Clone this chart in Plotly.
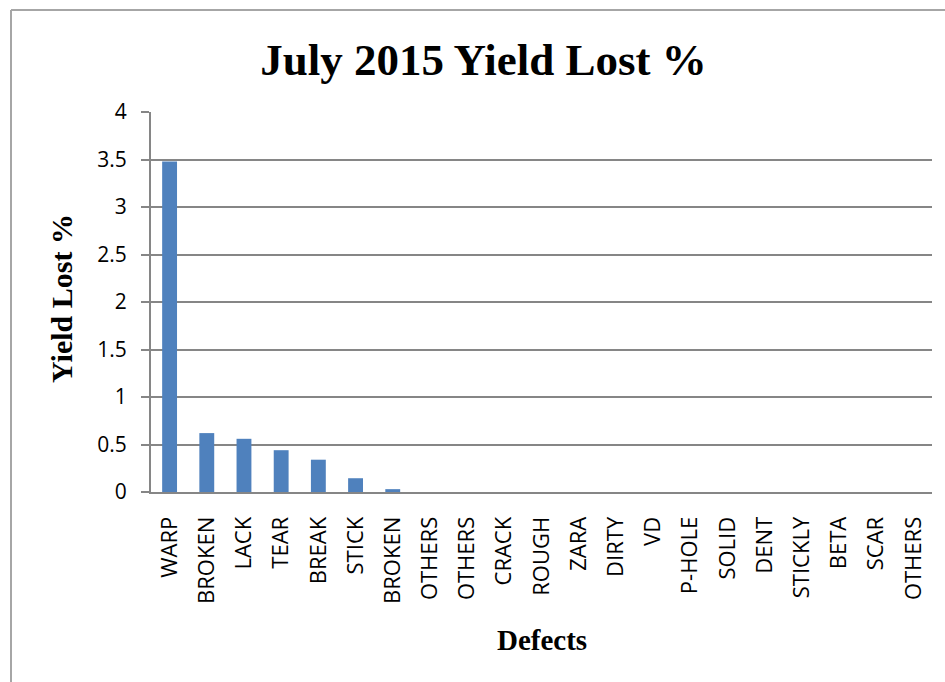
import plotly.graph_objects as go

categories = ["WARP", "BROKEN", "LACK", "TEAR", "BREAK", "STICK", "BROKEN", "OTHERS",
              "OTHERS", "CRACK", "ROUGH", "ZARA", "DIRTY", "VD", "P-HOLE", "SOLID",
              "DENT", "STICKLY", "BETA", "SCAR", "OTHERS"]
yield_lost = [3.48, 0.62, 0.56, 0.44, 0.34, 0.145, 0.03, 0, 0, 0, 0, 0, 0, 0, 0, 0, 0, 0, 0, 0, 0]
y_ticks = [0, 0.5, 1, 1.5, 2, 2.5, 3, 3.5, 4]
y_ticktext = ["0", "0.5", "1", "1.5", "2", "2.5", "3", "3.5", "4"]

positions = list(range(len(categories)))

W, H = 945, 682
L, R, T, B = 151, 13, 112, 190
pw, ph = W - L - R, H - T - B

def px(xpix):
    return (xpix - L) / pw

def py(ypix):
    return (H - B - ypix) / ph

sans = "Open Sans, Liberation Sans, sans-serif"
serif_bold = "Liberation Serif, Times New Roman, serif"

fig = go.Figure(go.Bar(x=positions, y=yield_lost, marker=dict(color="#4f81bd", line=dict(width=0)),
                       hoverinfo="x+y"))

frame = dict(color="#a6a6a6", width=2)

fig.update_layout(
    width=W, height=H,
    margin=dict(l=L, r=R, t=T, b=B),
    paper_bgcolor="white", plot_bgcolor="white",
    bargap=0.6,
    showlegend=False,
    title=dict(text="<b>July 2015 Yield Lost %</b>", x=483.5 / W, xref="container", xanchor="center",
               y=1 - 59 / H, yref="container", yanchor="middle",
               font=dict(family=serif_bold, size=45, color="#000000")),
    xaxis=dict(range=[-0.5, len(categories) - 0.5], tickmode="array", tickvals=positions,
               ticktext=categories, tickangle=-90,
               tickfont=dict(family=sans, size=22, color="#000000"), showgrid=False,
               showline=True, linecolor="#868686", linewidth=2, ticks="", zeroline=False,
               ticklabelstandoff=14, fixedrange=True),
    yaxis=dict(range=[0, 4], tickmode="array", tickvals=y_ticks, ticktext=y_ticktext,
               tickfont=dict(family=sans, size=21, color="#000000"), showgrid=True,
               gridcolor="#868686", gridwidth=2,
               showline=True, linecolor="#868686", linewidth=2, ticks="outside", ticklen=8,
               tickcolor="#868686", tickwidth=2, zeroline=False, ticklabelstandoff=10,
               fixedrange=True),
    shapes=[
        dict(type="line", xref="paper", yref="paper", x0=px(11), x1=px(11), y0=py(720), y1=py(10),
             line=frame, layer="below"),
        dict(type="line", xref="paper", yref="paper", x0=px(11), x1=px(1000), y0=py(10), y1=py(10),
             line=frame, layer="below"),
    ],
    annotations=[
        dict(text="<b>Defects</b>", xref="paper", yref="paper", x=px(542), y=py(640),
             xanchor="center", yanchor="middle", showarrow=False,
             font=dict(family=serif_bold, size=29, color="#000000")),
        dict(text="<b>Yield Lost %</b>", xref="paper", yref="paper", x=px(61), y=py(299),
             xanchor="center", yanchor="middle", showarrow=False, textangle=-90,
             font=dict(family=serif_bold, size=30, color="#000000")),
    ],
)

fig.write_html("out.html")
